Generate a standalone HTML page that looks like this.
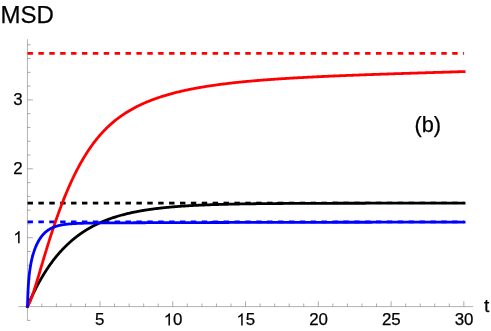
<!DOCTYPE html>
<html><head><meta charset="utf-8"><title>MSD plot</title>
<style>html,body{margin:0;padding:0;background:#fff;}body{width:491px;height:331px;overflow:hidden;font-family:"Liberation Sans",sans-serif;}</style>
</head><body>
<svg width="491" height="331" viewBox="0 0 491 331" style="display:block;will-change:transform"><g stroke="#666666" stroke-width="0.5" fill="none">
<line x1="18.4" y1="306.6" x2="473.2" y2="306.6"/>
<line x1="27.45" y1="39.2" x2="27.45" y2="320.6"/>
</g>
<g stroke="#666666" stroke-width="0.55" fill="none">
<line x1="41.80" y1="306.6" x2="41.80" y2="303.50"/>
<line x1="56.36" y1="306.6" x2="56.36" y2="303.50"/>
<line x1="70.91" y1="306.6" x2="70.91" y2="303.50"/>
<line x1="85.46" y1="306.6" x2="85.46" y2="303.50"/>
<line x1="100.02" y1="306.6" x2="100.02" y2="301.20"/>
<line x1="114.57" y1="306.6" x2="114.57" y2="303.50"/>
<line x1="129.12" y1="306.6" x2="129.12" y2="303.50"/>
<line x1="143.67" y1="306.6" x2="143.67" y2="303.50"/>
<line x1="158.23" y1="306.6" x2="158.23" y2="303.50"/>
<line x1="172.78" y1="306.6" x2="172.78" y2="301.20"/>
<line x1="187.33" y1="306.6" x2="187.33" y2="303.50"/>
<line x1="201.89" y1="306.6" x2="201.89" y2="303.50"/>
<line x1="216.44" y1="306.6" x2="216.44" y2="303.50"/>
<line x1="230.99" y1="306.6" x2="230.99" y2="303.50"/>
<line x1="245.55" y1="306.6" x2="245.55" y2="301.20"/>
<line x1="260.10" y1="306.6" x2="260.10" y2="303.50"/>
<line x1="274.65" y1="306.6" x2="274.65" y2="303.50"/>
<line x1="289.20" y1="306.6" x2="289.20" y2="303.50"/>
<line x1="303.76" y1="306.6" x2="303.76" y2="303.50"/>
<line x1="318.31" y1="306.6" x2="318.31" y2="301.20"/>
<line x1="332.86" y1="306.6" x2="332.86" y2="303.50"/>
<line x1="347.42" y1="306.6" x2="347.42" y2="303.50"/>
<line x1="361.97" y1="306.6" x2="361.97" y2="303.50"/>
<line x1="376.52" y1="306.6" x2="376.52" y2="303.50"/>
<line x1="391.08" y1="306.6" x2="391.08" y2="301.20"/>
<line x1="405.63" y1="306.6" x2="405.63" y2="303.50"/>
<line x1="420.18" y1="306.6" x2="420.18" y2="303.50"/>
<line x1="434.73" y1="306.6" x2="434.73" y2="303.50"/>
<line x1="449.29" y1="306.6" x2="449.29" y2="303.50"/>
<line x1="463.84" y1="306.6" x2="463.84" y2="301.20"/>
<line x1="27.45" y1="320.38" x2="30.55" y2="320.38"/>
<line x1="27.45" y1="292.82" x2="30.55" y2="292.82"/>
<line x1="27.45" y1="279.04" x2="30.55" y2="279.04"/>
<line x1="27.45" y1="265.26" x2="30.55" y2="265.26"/>
<line x1="27.45" y1="251.48" x2="30.55" y2="251.48"/>
<line x1="27.45" y1="237.70" x2="32.85" y2="237.70"/>
<line x1="27.45" y1="223.92" x2="30.55" y2="223.92"/>
<line x1="27.45" y1="210.14" x2="30.55" y2="210.14"/>
<line x1="27.45" y1="196.36" x2="30.55" y2="196.36"/>
<line x1="27.45" y1="182.58" x2="30.55" y2="182.58"/>
<line x1="27.45" y1="168.80" x2="32.85" y2="168.80"/>
<line x1="27.45" y1="155.02" x2="30.55" y2="155.02"/>
<line x1="27.45" y1="141.24" x2="30.55" y2="141.24"/>
<line x1="27.45" y1="127.46" x2="30.55" y2="127.46"/>
<line x1="27.45" y1="113.68" x2="30.55" y2="113.68"/>
<line x1="27.45" y1="99.90" x2="32.85" y2="99.90"/>
<line x1="27.45" y1="86.12" x2="30.55" y2="86.12"/>
<line x1="27.45" y1="72.34" x2="30.55" y2="72.34"/>
<line x1="27.45" y1="58.56" x2="30.55" y2="58.56"/>
<line x1="27.45" y1="44.78" x2="30.55" y2="44.78"/>
</g>
<g fill="none" stroke-width="2.8">
<rect x="27.50" y="201.70" width="5.45" height="2.8" fill="#000" stroke="none"/>
<rect x="38.39" y="201.70" width="5.45" height="2.8" fill="#000" stroke="none"/>
<rect x="49.28" y="201.70" width="5.45" height="2.8" fill="#000" stroke="none"/>
<rect x="60.17" y="201.70" width="5.45" height="2.8" fill="#000" stroke="none"/>
<rect x="71.06" y="201.70" width="5.44" height="2.8" fill="#000" stroke="none"/>
<rect x="81.95" y="201.70" width="5.45" height="2.8" fill="#000" stroke="none"/>
<rect x="92.84" y="201.70" width="5.44" height="2.8" fill="#000" stroke="none"/>
<rect x="103.73" y="201.70" width="5.45" height="2.8" fill="#000" stroke="none"/>
<rect x="114.62" y="201.70" width="5.44" height="2.8" fill="#000" stroke="none"/>
<rect x="125.51" y="201.70" width="5.45" height="2.8" fill="#000" stroke="none"/>
<rect x="136.40" y="201.70" width="5.44" height="2.8" fill="#000" stroke="none"/>
<rect x="147.29" y="201.70" width="5.44" height="2.8" fill="#000" stroke="none"/>
<rect x="158.18" y="201.70" width="5.44" height="2.8" fill="#000" stroke="none"/>
<rect x="169.07" y="201.70" width="5.44" height="2.8" fill="#000" stroke="none"/>
<rect x="179.96" y="201.70" width="5.44" height="2.8" fill="#000" stroke="none"/>
<rect x="190.85" y="201.70" width="5.44" height="2.8" fill="#000" stroke="none"/>
<rect x="201.74" y="201.70" width="5.44" height="2.8" fill="#000" stroke="none"/>
<rect x="212.63" y="201.70" width="5.44" height="2.35" fill="#000" stroke="none"/>
<rect x="223.52" y="201.70" width="5.44" height="2.35" fill="#000" stroke="none"/>
<rect x="234.41" y="201.70" width="5.44" height="2.35" fill="#000" stroke="none"/>
<rect x="245.30" y="201.70" width="5.44" height="2.35" fill="#000" stroke="none"/>
<rect x="256.19" y="201.70" width="5.44" height="2.35" fill="#000" stroke="none"/>
<rect x="267.08" y="201.70" width="5.44" height="2.35" fill="#000" stroke="none"/>
<rect x="277.97" y="201.70" width="5.44" height="2.35" fill="#000" stroke="none"/>
<rect x="288.86" y="201.70" width="5.44" height="2.35" fill="#000" stroke="none"/>
<rect x="299.75" y="201.70" width="5.44" height="2.35" fill="#000" stroke="none"/>
<rect x="310.64" y="201.70" width="5.44" height="2.35" fill="#000" stroke="none"/>
<rect x="321.53" y="201.70" width="5.44" height="2.35" fill="#000" stroke="none"/>
<rect x="332.42" y="201.70" width="5.44" height="2.35" fill="#000" stroke="none"/>
<rect x="343.31" y="201.70" width="5.44" height="2.35" fill="#000" stroke="none"/>
<rect x="354.20" y="201.70" width="5.44" height="2.35" fill="#000" stroke="none"/>
<rect x="365.09" y="201.70" width="5.44" height="2.35" fill="#000" stroke="none"/>
<rect x="375.98" y="201.70" width="5.44" height="2.35" fill="#000" stroke="none"/>
<rect x="386.87" y="201.70" width="5.44" height="2.35" fill="#000" stroke="none"/>
<rect x="397.76" y="201.70" width="5.44" height="2.35" fill="#000" stroke="none"/>
<rect x="408.65" y="201.70" width="5.44" height="2.35" fill="#000" stroke="none"/>
<rect x="419.54" y="201.70" width="5.44" height="2.35" fill="#000" stroke="none"/>
<rect x="430.43" y="201.70" width="5.44" height="2.35" fill="#000" stroke="none"/>
<rect x="441.32" y="201.70" width="5.44" height="2.35" fill="#000" stroke="none"/>
<rect x="452.21" y="201.70" width="5.44" height="2.35" fill="#000" stroke="none"/>
<rect x="463.10" y="201.70" width="0.99" height="2.35" fill="#000" stroke="none"/>
<line x1="27.5" y1="53.3" x2="464.09" y2="53.3" stroke="#f00" stroke-dasharray="5.445 5.445"/>
<line x1="27.5" y1="221.8" x2="464.09" y2="221.8" stroke="#00f" stroke-dasharray="5.445 5.445"/>
<path d="M27.50,306.30 L27.70,305.83 L27.90,305.36 L28.10,304.89 L28.30,304.42 L28.37,304.25 L28.50,303.96 L28.70,303.50 L28.90,303.04 L29.10,302.58 L29.25,302.25 L29.30,302.12 L29.51,301.67 L29.71,301.22 L29.91,300.77 L30.11,300.32 L30.12,300.28 L30.31,299.88 L30.51,299.44 L30.71,298.99 L30.91,298.56 L31.00,298.36 L31.11,298.12 L31.31,297.68 L31.51,297.25 L31.71,296.82 L31.87,296.47 L31.91,296.39 L32.11,295.96 L32.31,295.54 L32.51,295.12 L32.71,294.69 L32.75,294.62 L32.91,294.27 L33.11,293.86 L33.31,293.44 L33.52,293.03 L33.62,292.80 L33.72,292.62 L33.92,292.21 L34.12,291.80 L34.32,291.39 L34.50,291.02 L34.52,290.99 L34.72,290.59 L34.92,290.19 L35.12,289.79 L35.32,289.39 L35.37,289.28 L35.52,289.00 L35.72,288.60 L35.92,288.21 L36.12,287.82 L36.25,287.57 L36.32,287.43 L36.52,287.05 L36.72,286.66 L36.92,286.28 L37.12,285.90 L37.12,285.90 L37.32,285.52 L37.53,285.14 L37.73,284.77 L37.93,284.39 L38.00,284.26 L38.13,284.02 L38.33,283.65 L38.53,283.28 L38.73,282.92 L38.87,282.65 L38.93,282.55 L39.13,282.19 L39.33,281.82 L39.53,281.46 L39.73,281.11 L39.75,281.07 L39.93,280.75 L40.13,280.39 L40.33,280.04 L40.53,279.69 L40.62,279.53 L40.73,279.34 L40.93,278.99 L41.13,278.64 L41.33,278.29 L41.50,278.01 L41.54,277.95 L41.74,277.61 L41.94,277.27 L42.14,276.93 L42.34,276.59 L42.37,276.53 L42.54,276.25 L42.74,275.92 L42.94,275.59 L43.14,275.25 L43.25,275.07 L43.34,274.92 L43.54,274.59 L43.74,274.27 L43.94,273.94 L44.12,273.65 L44.14,273.62 L44.34,273.29 L44.54,272.97 L44.74,272.65 L44.94,272.34 L45.00,272.25 L45.14,272.02 L45.34,271.70 L45.55,271.39 L45.75,271.08 L45.87,270.88 L45.95,270.77 L46.15,270.46 L46.35,270.15 L46.55,269.84 L46.75,269.54 L46.75,269.53 L46.95,269.23 L47.15,268.93 L47.35,268.63 L47.55,268.33 L47.62,268.22 L47.75,268.03 L47.95,267.73 L48.15,267.44 L48.35,267.14 L48.50,266.93 L48.55,266.85 L48.75,266.56 L48.95,266.27 L49.15,265.98 L49.35,265.69 L49.37,265.66 L49.56,265.40 L49.76,265.12 L49.96,264.83 L50.16,264.55 L50.25,264.42 L50.36,264.27 L50.56,263.99 L50.76,263.71 L50.96,263.43 L51.12,263.21 L51.16,263.16 L51.36,262.88 L51.56,262.61 L51.76,262.34 L51.96,262.07 L52.00,262.02 L52.16,261.80 L52.36,261.53 L52.56,261.26 L52.76,260.99 L52.87,260.85 L52.96,260.73 L53.16,260.47 L53.36,260.20 L53.57,259.94 L53.75,259.71 L53.77,259.68 L53.97,259.42 L54.17,259.17 L54.37,258.91 L54.57,258.65 L54.62,258.58 L54.77,258.40 L54.97,258.15 L55.17,257.89 L55.37,257.64 L55.50,257.48 L55.57,257.39 L55.77,257.15 L55.97,256.90 L56.17,256.65 L56.37,256.41 L56.37,256.41 L56.57,256.16 L56.77,255.92 L56.97,255.68 L57.17,255.44 L57.25,255.35 L57.37,255.20 L57.58,254.96 L57.78,254.72 L57.98,254.49 L58.12,254.32 L58.18,254.25 L58.38,254.02 L58.58,253.79 L58.78,253.55 L58.98,253.32 L59.00,253.30 L59.18,253.09 L59.38,252.86 L59.58,252.64 L59.78,252.41 L59.87,252.31 L59.98,252.18 L60.18,251.96 L60.38,251.74 L60.58,251.51 L60.75,251.33 L60.78,251.29 L60.98,251.07 L61.18,250.85 L61.38,250.63 L61.59,250.42 L61.62,250.38 L61.79,250.20 L61.99,249.99 L62.19,249.77 L62.39,249.56 L62.50,249.44 L62.59,249.34 L62.79,249.13 L62.99,248.92 L63.19,248.71 L63.37,248.52 L63.39,248.50 L63.59,248.30 L63.79,248.09 L63.99,247.88 L64.19,247.68 L64.25,247.62 L64.39,247.48 L64.59,247.27 L64.79,247.07 L64.99,246.87 L65.12,246.74 L65.19,246.67 L65.39,246.47 L65.60,246.27 L65.80,246.07 L66.00,245.88 L66.00,245.88 L66.20,245.68 L66.40,245.49 L66.60,245.29 L66.80,245.10 L66.87,245.03 L67.00,244.91 L67.20,244.72 L67.40,244.53 L67.60,244.34 L67.75,244.20 L67.80,244.15 L68.00,243.96 L68.20,243.77 L68.40,243.59 L68.60,243.40 L68.62,243.39 L68.80,243.22 L69.00,243.04 L69.20,242.85 L69.40,242.67 L69.50,242.59 L69.61,242.49 L69.81,242.31 L70.01,242.13 L70.21,241.95 L70.37,241.81 L70.41,241.77 L70.61,241.60 L70.81,241.42 L71.01,241.25 L71.21,241.07 L71.25,241.04 L71.41,240.90 L71.61,240.73 L71.81,240.55 L72.01,240.38 L72.12,240.29 L72.21,240.21 L72.41,240.04 L72.61,239.87 L72.81,239.71 L73.00,239.55 L73.01,239.54 L73.21,239.37 L73.41,239.21 L73.62,239.04 L73.82,238.88 L73.87,238.83 L74.02,238.71 L74.22,238.55 L74.42,238.39 L74.62,238.23 L74.75,238.12 L74.82,238.07 L75.02,237.91 L75.22,237.75 L75.42,237.59 L75.62,237.43 L75.62,237.43 L75.82,237.27 L76.02,237.12 L76.22,236.96 L76.42,236.81 L76.50,236.75 L76.62,236.65 L76.82,236.50 L77.02,236.35 L77.22,236.20 L77.37,236.08 L77.42,236.04 L77.63,235.89 L77.83,235.74 L78.03,235.59 L78.23,235.45 L78.25,235.43 L78.43,235.30 L78.63,235.15 L78.83,235.00 L79.03,234.86 L79.12,234.79 L79.23,234.71 L79.43,234.57 L79.63,234.43 L79.83,234.28 L80.00,234.16 L80.03,234.14 L80.23,234.00 L80.43,233.86 L80.63,233.72 L80.83,233.58 L80.87,233.55 L81.03,233.44 L81.23,233.30 L81.43,233.16 L81.64,233.02 L81.75,232.95 L81.84,232.89 L82.04,232.75 L82.24,232.61 L82.44,232.48 L82.62,232.36 L82.64,232.35 L82.84,232.21 L83.04,232.08 L83.24,231.95 L83.44,231.81 L83.50,231.78 L83.64,231.68 L83.84,231.55 L84.04,231.42 L84.24,231.29 L84.37,231.21 L84.44,231.16 L84.64,231.04 L84.84,230.91 L85.04,230.78 L85.24,230.65 L85.25,230.65 L85.44,230.53 L85.65,230.40 L85.85,230.28 L86.05,230.15 L86.12,230.11 L86.25,230.03 L86.45,229.91 L86.65,229.79 L86.85,229.66 L87.00,229.57 L87.05,229.54 L87.25,229.42 L87.45,229.30 L87.65,229.18 L87.85,229.06 L87.87,229.05 L88.05,228.94 L88.25,228.83 L88.45,228.71 L88.65,228.59 L88.75,228.54 L88.85,228.48 L89.05,228.36 L89.25,228.24 L89.45,228.13 L89.62,228.03 L89.66,228.01 L89.86,227.90 L90.06,227.79 L90.26,227.67 L90.46,227.56 L90.49,227.54 L90.66,227.45 L90.86,227.34 L91.06,227.23 L91.26,227.12 L91.37,227.06 L91.46,227.01 L91.66,226.90 L91.86,226.79 L92.06,226.68 L92.24,226.58 L92.26,226.58 L92.46,226.47 L92.66,226.36 L92.86,226.26 L93.06,226.15 L93.12,226.12 L93.26,226.04 L93.46,225.94 L93.67,225.84 L93.87,225.73 L93.99,225.66 L94.07,225.63 L94.27,225.53 L94.47,225.42 L94.67,225.32 L94.87,225.22 L94.87,225.22 L95.07,225.12 L95.27,225.02 L95.47,224.92 L95.67,224.82 L95.74,224.78 L95.87,224.72 L96.07,224.62 L96.27,224.52 L96.47,224.42 L96.62,224.35 L96.67,224.33 L96.87,224.23 L97.07,224.13 L97.27,224.04 L97.47,223.94 L97.49,223.93 L97.68,223.85 L97.88,223.75 L98.08,223.66 L98.28,223.56 L98.37,223.52 L98.48,223.47 L98.68,223.38 L98.88,223.29 L99.08,223.19 L99.24,223.12 L99.28,223.10 L99.48,223.01 L99.68,222.92 L99.88,222.83 L100.08,222.74 L100.12,222.72 L100.28,222.65 L100.48,222.56 L100.68,222.47 L100.88,222.38 L100.99,222.33 L101.08,222.29 L101.28,222.21 L101.48,222.12 L101.69,222.03 L101.87,221.95 L101.89,221.95 L102.09,221.86 L102.29,221.78 L102.49,221.69 L102.69,221.61 L102.74,221.58 L102.89,221.52 L103.09,221.44 L103.29,221.35 L103.49,221.27 L103.62,221.22 L103.69,221.19 L103.89,221.10 L104.09,221.02 L104.29,220.94 L104.49,220.86 L104.49,220.86 L104.69,220.78 L104.89,220.70 L105.09,220.62 L105.29,220.54 L105.37,220.51 L105.49,220.46 L105.70,220.38 L105.90,220.30 L106.10,220.22 L106.24,220.16 L106.30,220.14 L106.50,220.07 L106.70,219.99 L106.90,219.91 L107.10,219.83 L107.12,219.83 L107.30,219.76 L107.50,219.68 L107.99,219.50 L108.87,219.17 L109.74,218.86 L110.62,218.54 L111.49,218.24 L112.37,217.94 L113.24,217.65 L114.12,217.36 L114.99,217.08 L115.87,216.80 L116.74,216.53 L117.62,216.27 L118.49,216.01 L119.37,215.75 L120.24,215.51 L121.12,215.26 L121.99,215.02 L122.87,214.79 L123.74,214.56 L124.62,214.33 L125.49,214.11 L126.37,213.89 L127.24,213.68 L128.12,213.47 L128.99,213.27 L129.87,213.07 L130.74,212.87 L131.62,212.68 L132.49,212.49 L133.37,212.31 L134.24,212.12 L135.12,211.95 L135.99,211.77 L136.87,211.60 L137.74,211.44 L138.62,211.27 L139.49,211.11 L140.37,210.95 L141.24,210.80 L142.12,210.65 L142.99,210.50 L143.87,210.35 L144.74,210.21 L145.62,210.07 L146.49,209.94 L147.37,209.80 L148.24,209.67 L149.12,209.54 L149.99,209.42 L150.87,209.29 L151.74,209.17 L152.61,209.05 L153.49,208.94 L154.36,208.82 L155.24,208.71 L156.11,208.60 L156.99,208.49 L157.86,208.39 L158.74,208.28 L159.61,208.18 L160.49,208.08 L161.36,207.99 L162.24,207.89 L163.11,207.80 L163.99,207.71 L164.86,207.62 L165.74,207.53 L166.61,207.44 L167.49,207.36 L168.36,207.27 L169.24,207.19 L170.11,207.11 L170.99,207.03 L171.86,206.96 L172.74,206.88 L173.61,206.81 L174.49,206.74 L175.36,206.67 L176.24,206.60 L177.11,206.53 L177.99,206.46 L178.86,206.40 L179.74,206.33 L180.61,206.27 L181.49,206.21 L182.36,206.15 L183.24,206.09 L184.11,206.03 L184.99,205.98 L185.86,205.92 L186.74,205.87 L187.61,205.81 L188.49,205.76 L189.36,205.71 L190.24,205.66 L191.11,205.61 L191.99,205.56 L192.86,205.52 L193.74,205.47 L194.61,205.42 L195.49,205.38 L196.36,205.34 L197.24,205.29 L198.11,205.25 L198.99,205.21 L199.86,205.17 L200.74,205.13 L201.61,205.09 L202.49,205.05 L203.36,205.02 L204.24,204.98 L205.11,204.94 L205.99,204.91 L206.86,204.87 L207.74,204.84 L208.61,204.81 L209.49,204.78 L210.36,204.74 L211.24,204.71 L212.11,204.68 L212.99,204.65 L213.86,204.62 L214.73,204.60 L215.61,204.57 L216.48,204.54 L217.36,204.51 L218.23,204.49 L219.11,204.46 L219.98,204.43 L220.86,204.41 L221.73,204.39 L222.61,204.36 L223.48,204.34 L224.36,204.32 L225.23,204.29 L226.11,204.27 L226.98,204.25 L227.86,204.23 L228.73,204.21 L229.61,204.19 L230.48,204.17 L231.36,204.15 L232.23,204.13 L233.11,204.11 L233.98,204.09 L234.86,204.07 L235.73,204.05 L236.61,204.04 L237.48,204.02 L238.36,204.00 L239.23,203.99 L240.11,203.97 L240.98,203.96 L241.86,203.94 L242.73,203.93 L243.61,203.91 L244.48,203.90 L245.36,203.88 L246.23,203.87 L247.11,203.85 L247.98,203.84 L248.86,203.83 L249.73,203.81 L250.61,203.80 L251.48,203.79 L252.36,203.78 L253.23,203.77 L254.11,203.75 L254.98,203.74 L255.86,203.73 L256.73,203.72 L257.61,203.71 L258.48,203.70 L259.36,203.69 L260.23,203.68 L261.11,203.67 L261.98,203.66 L262.86,203.65 L263.73,203.64 L264.61,203.63 L265.48,203.62 L266.36,203.61 L267.23,203.61 L268.11,203.60 L268.98,203.59 L269.86,203.58 L270.73,203.57 L271.61,203.56 L272.48,203.56 L273.36,203.55 L274.23,203.54 L275.11,203.54 L275.98,203.53 L276.86,203.52 L277.73,203.51 L278.60,203.51 L279.48,203.50 L280.35,203.49 L281.23,203.49 L282.10,203.48 L282.98,203.48 L283.85,203.47 L284.73,203.46 L285.60,203.46 L286.48,203.45 L287.35,203.45 L288.23,203.44 L289.10,203.44 L289.98,203.43 L290.85,203.43 L291.73,203.42 L292.60,203.42 L293.48,203.41 L294.35,203.41 L295.23,203.40 L296.10,203.40 L296.98,203.40 L297.85,203.39 L298.73,203.39 L299.60,203.38 L300.48,203.38 L301.35,203.37 L302.23,203.37 L303.10,203.37 L303.98,203.36 L304.85,203.36 L305.73,203.36 L306.60,203.35 L307.48,203.35 L308.35,203.35 L309.23,203.34 L310.10,203.34 L310.98,203.34 L311.85,203.33 L312.73,203.33 L313.60,203.33 L314.48,203.32 L315.35,203.32 L316.23,203.32 L317.10,203.32 L317.98,203.31 L318.85,203.31 L319.73,203.31 L320.60,203.31 L321.48,203.30 L322.35,203.30 L323.23,203.30 L324.10,203.30 L324.98,203.29 L325.85,203.29 L326.73,203.29 L327.60,203.29 L328.48,203.28 L329.35,203.28 L330.23,203.28 L331.10,203.28 L331.98,203.28 L332.85,203.27 L333.73,203.27 L334.60,203.27 L335.48,203.27 L336.35,203.27 L337.23,203.27 L338.10,203.26 L338.98,203.26 L339.85,203.26 L340.72,203.26 L341.60,203.26 L342.47,203.26 L343.35,203.25 L344.22,203.25 L345.10,203.25 L345.97,203.25 L346.85,203.25 L347.72,203.25 L348.60,203.25 L349.47,203.24 L350.35,203.24 L351.22,203.24 L352.10,203.24 L352.97,203.24 L353.85,203.24 L354.72,203.24 L355.60,203.24 L356.47,203.24 L357.35,203.23 L358.22,203.23 L359.10,203.23 L359.97,203.23 L360.85,203.23 L361.72,203.23 L362.60,203.23 L363.47,203.23 L364.35,203.23 L365.22,203.23 L366.10,203.22 L366.97,203.22 L367.85,203.22 L368.72,203.22 L369.60,203.22 L370.47,203.22 L371.35,203.22 L372.22,203.22 L373.10,203.22 L373.97,203.22 L374.85,203.22 L375.72,203.22 L376.60,203.21 L377.47,203.21 L378.35,203.21 L379.22,203.21 L380.10,203.21 L380.97,203.21 L381.85,203.21 L382.72,203.21 L383.60,203.21 L384.47,203.21 L385.35,203.21 L386.22,203.21 L387.10,203.21 L387.97,203.21 L388.85,203.21 L389.72,203.21 L390.60,203.21 L391.47,203.20 L392.35,203.20 L393.22,203.20 L394.10,203.20 L394.97,203.20 L395.85,203.20 L396.72,203.20 L397.60,203.20 L398.47,203.20 L399.35,203.20 L400.22,203.20 L401.10,203.20 L401.97,203.20 L402.84,203.20 L403.72,203.20 L404.59,203.20 L405.47,203.20 L406.34,203.20 L407.22,203.20 L408.09,203.20 L408.97,203.20 L409.84,203.20 L410.72,203.20 L411.59,203.20 L412.47,203.20 L413.34,203.19 L414.22,203.19 L415.09,203.19 L415.97,203.19 L416.84,203.19 L417.72,203.19 L418.59,203.19 L419.47,203.19 L420.34,203.19 L421.22,203.19 L422.09,203.19 L422.97,203.19 L423.84,203.19 L424.72,203.19 L425.59,203.19 L426.47,203.19 L427.34,203.19 L428.22,203.19 L429.09,203.19 L429.97,203.19 L430.84,203.19 L431.72,203.19 L432.59,203.19 L433.47,203.19 L434.34,203.19 L435.22,203.19 L436.09,203.19 L436.97,203.19 L437.84,203.19 L438.72,203.19 L439.59,203.19 L440.47,203.19 L441.34,203.19 L442.22,203.19 L443.09,203.19 L443.97,203.19 L444.84,203.19 L445.72,203.19 L446.59,203.19 L447.47,203.19 L448.34,203.19 L449.22,203.19 L450.09,203.19 L450.97,203.19 L451.84,203.19 L452.72,203.19 L453.59,203.19 L454.47,203.19 L455.34,203.19 L456.22,203.19 L457.09,203.19 L457.97,203.19 L458.84,203.19 L459.72,203.19 L460.59,203.19 L461.47,203.18 L462.34,203.18 L463.22,203.18 L464.09,203.18" stroke="#000" stroke-linecap="square" stroke-linejoin="round"/>
<path d="M27.50,306.30 L27.70,306.01 L27.90,305.71 L28.10,305.39 L28.30,305.05 L28.37,304.92 L28.50,304.69 L28.70,304.32 L28.90,303.93 L29.10,303.53 L29.25,303.23 L29.30,303.11 L29.51,302.68 L29.71,302.24 L29.91,301.79 L30.11,301.33 L30.12,301.28 L30.31,300.85 L30.51,300.37 L30.71,299.87 L30.91,299.37 L31.00,299.13 L31.11,298.85 L31.31,298.33 L31.51,297.80 L31.71,297.26 L31.87,296.81 L31.91,296.72 L32.11,296.16 L32.31,295.60 L32.51,295.03 L32.71,294.46 L32.75,294.35 L32.91,293.88 L33.11,293.29 L33.31,292.70 L33.52,292.10 L33.62,291.78 L33.72,291.50 L33.92,290.90 L34.12,290.28 L34.32,289.67 L34.50,289.10 L34.52,289.05 L34.72,288.42 L34.92,287.79 L35.12,287.16 L35.32,286.52 L35.37,286.35 L35.52,285.88 L35.72,285.24 L35.92,284.59 L36.12,283.94 L36.25,283.53 L36.32,283.29 L36.52,282.63 L36.72,281.97 L36.92,281.31 L37.12,280.65 L37.12,280.65 L37.32,279.99 L37.53,279.32 L37.73,278.65 L37.93,277.98 L38.00,277.74 L38.13,277.31 L38.33,276.64 L38.53,275.97 L38.73,275.29 L38.87,274.80 L38.93,274.62 L39.13,273.94 L39.33,273.27 L39.53,272.59 L39.73,271.91 L39.75,271.85 L39.93,271.24 L40.13,270.56 L40.33,269.88 L40.53,269.20 L40.62,268.89 L40.73,268.53 L40.93,267.85 L41.13,267.17 L41.33,266.49 L41.50,265.94 L41.54,265.82 L41.74,265.14 L41.94,264.46 L42.14,263.79 L42.34,263.11 L42.37,262.99 L42.54,262.44 L42.74,261.77 L42.94,261.09 L43.14,260.42 L43.25,260.06 L43.34,259.75 L43.54,259.08 L43.74,258.41 L43.94,257.74 L44.12,257.14 L44.14,257.08 L44.34,256.41 L44.54,255.75 L44.74,255.08 L44.94,254.42 L45.00,254.24 L45.14,253.76 L45.34,253.10 L45.55,252.44 L45.75,251.78 L45.87,251.36 L45.95,251.12 L46.15,250.47 L46.35,249.81 L46.55,249.16 L46.75,248.51 L46.75,248.51 L46.95,247.86 L47.15,247.21 L47.35,246.57 L47.55,245.92 L47.62,245.68 L47.75,245.28 L47.95,244.63 L48.15,243.99 L48.35,243.35 L48.50,242.89 L48.55,242.71 L48.75,242.08 L48.95,241.44 L49.15,240.81 L49.35,240.18 L49.37,240.12 L49.56,239.55 L49.76,238.92 L49.96,238.29 L50.16,237.66 L50.25,237.38 L50.36,237.04 L50.56,236.42 L50.76,235.80 L50.96,235.18 L51.12,234.67 L51.16,234.56 L51.36,233.94 L51.56,233.33 L51.76,232.72 L51.96,232.11 L52.00,231.99 L52.16,231.50 L52.36,230.89 L52.56,230.28 L52.76,229.68 L52.87,229.35 L52.96,229.08 L53.16,228.47 L53.36,227.87 L53.57,227.28 L53.75,226.73 L53.77,226.68 L53.97,226.09 L54.17,225.49 L54.37,224.90 L54.57,224.31 L54.62,224.15 L54.77,223.72 L54.97,223.14 L55.17,222.55 L55.37,221.97 L55.50,221.60 L55.57,221.39 L55.77,220.81 L55.97,220.23 L56.17,219.66 L56.37,219.08 L56.37,219.08 L56.57,218.51 L56.77,217.94 L56.97,217.37 L57.17,216.80 L57.25,216.60 L57.37,216.24 L57.58,215.68 L57.78,215.11 L57.98,214.55 L58.12,214.15 L58.18,214.00 L58.38,213.44 L58.58,212.89 L58.78,212.33 L58.98,211.78 L59.00,211.73 L59.18,211.23 L59.38,210.69 L59.58,210.14 L59.78,209.60 L59.87,209.35 L59.98,209.06 L60.18,208.52 L60.38,207.98 L60.58,207.44 L60.75,207.01 L60.78,206.91 L60.98,206.38 L61.18,205.85 L61.38,205.32 L61.59,204.79 L61.62,204.70 L61.79,204.27 L61.99,203.75 L62.19,203.23 L62.39,202.71 L62.50,202.42 L62.59,202.19 L62.79,201.68 L62.99,201.16 L63.19,200.65 L63.37,200.19 L63.39,200.14 L63.59,199.64 L63.79,199.13 L63.99,198.63 L64.19,198.13 L64.25,197.99 L64.39,197.63 L64.59,197.13 L64.79,196.63 L64.99,196.14 L65.12,195.82 L65.19,195.65 L65.39,195.16 L65.60,194.67 L65.80,194.18 L66.00,193.70 L66.00,193.70 L66.20,193.22 L66.40,192.73 L66.60,192.26 L66.80,191.78 L66.87,191.60 L67.00,191.30 L67.20,190.83 L67.40,190.36 L67.60,189.89 L67.75,189.55 L67.80,189.42 L68.00,188.96 L68.20,188.49 L68.40,188.03 L68.60,187.57 L68.62,187.53 L68.80,187.11 L69.00,186.65 L69.20,186.20 L69.40,185.75 L69.50,185.54 L69.61,185.30 L69.81,184.85 L70.01,184.40 L70.21,183.95 L70.37,183.59 L70.41,183.51 L70.61,183.07 L70.81,182.63 L71.01,182.19 L71.21,181.75 L71.25,181.67 L71.41,181.32 L71.61,180.88 L71.81,180.45 L72.01,180.02 L72.12,179.79 L72.21,179.59 L72.41,179.17 L72.61,178.74 L72.81,178.32 L73.00,177.94 L73.01,177.90 L73.21,177.48 L73.41,177.06 L73.62,176.65 L73.82,176.23 L73.87,176.12 L74.02,175.82 L74.22,175.41 L74.42,175.00 L74.62,174.60 L74.75,174.34 L74.82,174.19 L75.02,173.79 L75.22,173.39 L75.42,172.99 L75.62,172.59 L75.62,172.59 L75.82,172.19 L76.02,171.79 L76.22,171.40 L76.42,171.01 L76.50,170.87 L76.62,170.62 L76.82,170.23 L77.02,169.84 L77.22,169.46 L77.37,169.18 L77.42,169.07 L77.63,168.69 L77.83,168.31 L78.03,167.93 L78.23,167.56 L78.25,167.52 L78.43,167.18 L78.63,166.81 L78.83,166.43 L79.03,166.06 L79.12,165.89 L79.23,165.69 L79.43,165.33 L79.63,164.96 L79.83,164.60 L80.00,164.30 L80.03,164.23 L80.23,163.87 L80.43,163.51 L80.63,163.15 L80.83,162.80 L80.87,162.73 L81.03,162.44 L81.23,162.09 L81.43,161.74 L81.64,161.39 L81.75,161.19 L81.84,161.04 L82.04,160.69 L82.24,160.34 L82.44,160.00 L82.62,159.69 L82.64,159.66 L82.84,159.32 L83.04,158.98 L83.24,158.64 L83.44,158.30 L83.50,158.21 L83.64,157.97 L83.84,157.63 L84.04,157.30 L84.24,156.97 L84.37,156.76 L84.44,156.64 L84.64,156.31 L84.84,155.98 L85.04,155.66 L85.24,155.33 L85.25,155.33 L85.44,155.01 L85.65,154.69 L85.85,154.37 L86.05,154.05 L86.12,153.94 L86.25,153.74 L86.45,153.42 L86.65,153.11 L86.85,152.79 L87.00,152.57 L87.05,152.48 L87.25,152.17 L87.45,151.86 L87.65,151.56 L87.85,151.25 L87.87,151.22 L88.05,150.95 L88.25,150.64 L88.45,150.34 L88.65,150.04 L88.75,149.90 L88.85,149.74 L89.05,149.45 L89.25,149.15 L89.45,148.85 L89.62,148.61 L89.66,148.56 L89.86,148.27 L90.06,147.98 L90.26,147.69 L90.46,147.40 L90.49,147.35 L90.66,147.11 L90.86,146.83 L91.06,146.54 L91.26,146.26 L91.37,146.10 L91.46,145.98 L91.66,145.70 L91.86,145.42 L92.06,145.14 L92.24,144.89 L92.26,144.86 L92.46,144.59 L92.66,144.31 L92.86,144.04 L93.06,143.77 L93.12,143.69 L93.26,143.50 L93.46,143.23 L93.67,142.96 L93.87,142.70 L93.99,142.52 L94.07,142.43 L94.27,142.17 L94.47,141.90 L94.67,141.64 L94.87,141.38 L94.87,141.38 L95.07,141.12 L95.27,140.86 L95.47,140.60 L95.67,140.35 L95.74,140.25 L95.87,140.09 L96.07,139.84 L96.27,139.59 L96.47,139.34 L96.62,139.15 L96.67,139.09 L96.87,138.84 L97.07,138.59 L97.27,138.34 L97.47,138.10 L97.49,138.08 L97.68,137.86 L97.88,137.61 L98.08,137.37 L98.28,137.13 L98.37,137.02 L98.48,136.89 L98.68,136.65 L98.88,136.41 L99.08,136.18 L99.24,135.98 L99.28,135.94 L99.48,135.71 L99.68,135.48 L99.88,135.24 L100.08,135.01 L100.12,134.97 L100.28,134.78 L100.48,134.56 L100.68,134.33 L100.88,134.10 L100.99,133.98 L101.08,133.88 L101.28,133.65 L101.48,133.43 L101.69,133.21 L101.87,133.00 L101.89,132.99 L102.09,132.77 L102.29,132.55 L102.49,132.33 L102.69,132.11 L102.74,132.05 L102.89,131.90 L103.09,131.68 L103.29,131.47 L103.49,131.26 L103.62,131.12 L103.69,131.05 L103.89,130.83 L104.09,130.63 L104.29,130.42 L104.49,130.21 L104.49,130.21 L104.69,130.00 L104.89,129.80 L105.09,129.59 L105.29,129.39 L105.37,129.31 L105.49,129.19 L105.70,128.99 L105.90,128.79 L106.10,128.59 L106.24,128.44 L106.30,128.39 L106.50,128.19 L106.70,127.99 L106.90,127.80 L107.10,127.60 L107.12,127.58 L107.30,127.41 L107.50,127.22 L107.99,126.75 L108.87,125.93 L109.74,125.12 L110.62,124.34 L111.49,123.56 L112.37,122.81 L113.24,122.07 L114.12,121.34 L114.99,120.63 L115.87,119.93 L116.74,119.25 L117.62,118.58 L118.49,117.92 L119.37,117.28 L120.24,116.64 L121.12,116.02 L121.99,115.41 L122.87,114.82 L123.74,114.23 L124.62,113.66 L125.49,113.09 L126.37,112.54 L127.24,111.99 L128.12,111.46 L128.99,110.93 L129.87,110.42 L130.74,109.91 L131.62,109.42 L132.49,108.93 L133.37,108.45 L134.24,107.98 L135.12,107.51 L135.99,107.06 L136.87,106.61 L137.74,106.17 L138.62,105.74 L139.49,105.31 L140.37,104.90 L141.24,104.49 L142.12,104.08 L142.99,103.69 L143.87,103.30 L144.74,102.91 L145.62,102.53 L146.49,102.16 L147.37,101.80 L148.24,101.44 L149.12,101.08 L149.99,100.74 L150.87,100.39 L151.74,100.06 L152.61,99.72 L153.49,99.40 L154.36,99.08 L155.24,98.76 L156.11,98.45 L156.99,98.14 L157.86,97.84 L158.74,97.54 L159.61,97.25 L160.49,96.96 L161.36,96.68 L162.24,96.40 L163.11,96.12 L163.99,95.85 L164.86,95.58 L165.74,95.32 L166.61,95.06 L167.49,94.81 L168.36,94.55 L169.24,94.31 L170.11,94.06 L170.99,93.82 L171.86,93.58 L172.74,93.35 L173.61,93.12 L174.49,92.89 L175.36,92.67 L176.24,92.45 L177.11,92.23 L177.99,92.01 L178.86,91.80 L179.74,91.59 L180.61,91.39 L181.49,91.18 L182.36,90.98 L183.24,90.79 L184.11,90.59 L184.99,90.40 L185.86,90.21 L186.74,90.02 L187.61,89.84 L188.49,89.66 L189.36,89.48 L190.24,89.30 L191.11,89.12 L191.99,88.95 L192.86,88.78 L193.74,88.61 L194.61,88.45 L195.49,88.28 L196.36,88.12 L197.24,87.96 L198.11,87.80 L198.99,87.65 L199.86,87.50 L200.74,87.34 L201.61,87.19 L202.49,87.05 L203.36,86.90 L204.24,86.76 L205.11,86.61 L205.99,86.47 L206.86,86.34 L207.74,86.20 L208.61,86.06 L209.49,85.93 L210.36,85.80 L211.24,85.67 L212.11,85.54 L212.99,85.41 L213.86,85.28 L214.73,85.16 L215.61,85.04 L216.48,84.92 L217.36,84.80 L218.23,84.68 L219.11,84.56 L219.98,84.44 L220.86,84.33 L221.73,84.22 L222.61,84.10 L223.48,83.99 L224.36,83.88 L225.23,83.78 L226.11,83.67 L226.98,83.56 L227.86,83.46 L228.73,83.36 L229.61,83.25 L230.48,83.15 L231.36,83.05 L232.23,82.96 L233.11,82.86 L233.98,82.76 L234.86,82.67 L235.73,82.57 L236.61,82.48 L237.48,82.39 L238.36,82.29 L239.23,82.20 L240.11,82.11 L240.98,82.03 L241.86,81.94 L242.73,81.85 L243.61,81.76 L244.48,81.68 L245.36,81.60 L246.23,81.51 L247.11,81.43 L247.98,81.35 L248.86,81.27 L249.73,81.19 L250.61,81.11 L251.48,81.03 L252.36,80.95 L253.23,80.88 L254.11,80.80 L254.98,80.73 L255.86,80.65 L256.73,80.58 L257.61,80.50 L258.48,80.43 L259.36,80.36 L260.23,80.29 L261.11,80.22 L261.98,80.15 L262.86,80.08 L263.73,80.01 L264.61,79.94 L265.48,79.88 L266.36,79.81 L267.23,79.75 L268.11,79.68 L268.98,79.62 L269.86,79.55 L270.73,79.49 L271.61,79.43 L272.48,79.36 L273.36,79.30 L274.23,79.24 L275.11,79.18 L275.98,79.12 L276.86,79.06 L277.73,79.00 L278.60,78.94 L279.48,78.88 L280.35,78.83 L281.23,78.77 L282.10,78.71 L282.98,78.66 L283.85,78.60 L284.73,78.55 L285.60,78.49 L286.48,78.44 L287.35,78.38 L288.23,78.33 L289.10,78.28 L289.98,78.22 L290.85,78.17 L291.73,78.12 L292.60,78.07 L293.48,78.02 L294.35,77.97 L295.23,77.92 L296.10,77.87 L296.98,77.82 L297.85,77.77 L298.73,77.72 L299.60,77.67 L300.48,77.62 L301.35,77.57 L302.23,77.53 L303.10,77.48 L303.98,77.43 L304.85,77.39 L305.73,77.34 L306.60,77.29 L307.48,77.25 L308.35,77.20 L309.23,77.16 L310.10,77.12 L310.98,77.07 L311.85,77.03 L312.73,76.98 L313.60,76.94 L314.48,76.90 L315.35,76.85 L316.23,76.81 L317.10,76.77 L317.98,76.73 L318.85,76.69 L319.73,76.64 L320.60,76.60 L321.48,76.56 L322.35,76.52 L323.23,76.48 L324.10,76.44 L324.98,76.40 L325.85,76.36 L326.73,76.32 L327.60,76.28 L328.48,76.24 L329.35,76.21 L330.23,76.17 L331.10,76.13 L331.98,76.09 L332.85,76.05 L333.73,76.02 L334.60,75.98 L335.48,75.94 L336.35,75.90 L337.23,75.87 L338.10,75.83 L338.98,75.79 L339.85,75.76 L340.72,75.72 L341.60,75.68 L342.47,75.65 L343.35,75.61 L344.22,75.58 L345.10,75.54 L345.97,75.51 L346.85,75.47 L347.72,75.44 L348.60,75.40 L349.47,75.37 L350.35,75.33 L351.22,75.30 L352.10,75.27 L352.97,75.23 L353.85,75.20 L354.72,75.16 L355.60,75.13 L356.47,75.10 L357.35,75.07 L358.22,75.03 L359.10,75.00 L359.97,74.97 L360.85,74.93 L361.72,74.90 L362.60,74.87 L363.47,74.84 L364.35,74.80 L365.22,74.77 L366.10,74.74 L366.97,74.71 L367.85,74.68 L368.72,74.65 L369.60,74.61 L370.47,74.58 L371.35,74.55 L372.22,74.52 L373.10,74.49 L373.97,74.46 L374.85,74.43 L375.72,74.40 L376.60,74.37 L377.47,74.34 L378.35,74.31 L379.22,74.28 L380.10,74.25 L380.97,74.22 L381.85,74.18 L382.72,74.16 L383.60,74.13 L384.47,74.10 L385.35,74.07 L386.22,74.04 L387.10,74.01 L387.97,73.98 L388.85,73.95 L389.72,73.92 L390.60,73.89 L391.47,73.86 L392.35,73.83 L393.22,73.80 L394.10,73.77 L394.97,73.74 L395.85,73.71 L396.72,73.69 L397.60,73.66 L398.47,73.63 L399.35,73.60 L400.22,73.57 L401.10,73.54 L401.97,73.51 L402.84,73.49 L403.72,73.46 L404.59,73.43 L405.47,73.40 L406.34,73.37 L407.22,73.35 L408.09,73.32 L408.97,73.29 L409.84,73.26 L410.72,73.23 L411.59,73.21 L412.47,73.18 L413.34,73.15 L414.22,73.12 L415.09,73.09 L415.97,73.07 L416.84,73.04 L417.72,73.01 L418.59,72.98 L419.47,72.96 L420.34,72.93 L421.22,72.90 L422.09,72.87 L422.97,72.85 L423.84,72.82 L424.72,72.79 L425.59,72.77 L426.47,72.74 L427.34,72.71 L428.22,72.68 L429.09,72.66 L429.97,72.63 L430.84,72.60 L431.72,72.58 L432.59,72.55 L433.47,72.52 L434.34,72.49 L435.22,72.47 L436.09,72.44 L436.97,72.41 L437.84,72.39 L438.72,72.36 L439.59,72.33 L440.47,72.31 L441.34,72.28 L442.22,72.25 L443.09,72.23 L443.97,72.20 L444.84,72.17 L445.72,72.15 L446.59,72.12 L447.47,72.09 L448.34,72.07 L449.22,72.04 L450.09,72.01 L450.97,71.99 L451.84,71.96 L452.72,71.93 L453.59,71.91 L454.47,71.88 L455.34,71.85 L456.22,71.83 L457.09,71.80 L457.97,71.77 L458.84,71.75 L459.72,71.72 L460.59,71.69 L461.47,71.67 L462.34,71.64 L463.22,71.61 L464.09,71.59" stroke="#f00" stroke-linecap="square" stroke-linejoin="round"/>
<path d="M27.50,306.30 L27.70,299.33 L27.90,293.98 L28.10,289.71 L28.30,286.21 L28.37,285.07 L28.50,283.24 L28.70,280.66 L28.90,278.39 L29.10,276.34 L29.25,274.97 L29.30,274.48 L29.51,272.77 L29.71,271.18 L29.91,269.71 L30.11,268.33 L30.12,268.21 L30.31,267.04 L30.51,265.81 L30.71,264.66 L30.91,263.57 L31.00,263.09 L31.11,262.53 L31.31,261.53 L31.51,260.59 L31.71,259.68 L31.87,258.97 L31.91,258.81 L32.11,257.98 L32.31,257.18 L32.51,256.41 L32.71,255.66 L32.75,255.53 L32.91,254.94 L33.11,254.25 L33.31,253.57 L33.52,252.92 L33.62,252.57 L33.72,252.29 L33.92,251.67 L34.12,251.08 L34.32,250.50 L34.50,249.98 L34.52,249.93 L34.72,249.38 L34.92,248.84 L35.12,248.32 L35.32,247.81 L35.37,247.67 L35.52,247.31 L35.72,246.82 L35.92,246.35 L36.12,245.88 L36.25,245.59 L36.32,245.43 L36.52,244.99 L36.72,244.55 L36.92,244.13 L37.12,243.71 L37.12,243.71 L37.32,243.31 L37.53,242.91 L37.73,242.52 L37.93,242.14 L38.00,242.00 L38.13,241.76 L38.33,241.40 L38.53,241.04 L38.73,240.69 L38.87,240.44 L38.93,240.35 L39.13,240.01 L39.33,239.68 L39.53,239.36 L39.73,239.04 L39.75,239.01 L39.93,238.73 L40.13,238.42 L40.33,238.13 L40.53,237.83 L40.62,237.70 L40.73,237.55 L40.93,237.27 L41.13,236.99 L41.33,236.72 L41.50,236.51 L41.54,236.46 L41.74,236.20 L41.94,235.94 L42.14,235.70 L42.34,235.45 L42.37,235.41 L42.54,235.21 L42.74,234.98 L42.94,234.75 L43.14,234.52 L43.25,234.40 L43.34,234.30 L43.54,234.08 L43.74,233.87 L43.94,233.66 L44.12,233.48 L44.14,233.46 L44.34,233.26 L44.54,233.06 L44.74,232.87 L44.94,232.68 L45.00,232.63 L45.14,232.49 L45.34,232.31 L45.55,232.13 L45.75,231.96 L45.87,231.85 L45.95,231.79 L46.15,231.62 L46.35,231.46 L46.55,231.29 L46.75,231.14 L46.75,231.14 L46.95,230.98 L47.15,230.83 L47.35,230.68 L47.55,230.53 L47.62,230.48 L47.75,230.39 L47.95,230.25 L48.15,230.11 L48.35,229.97 L48.50,229.88 L48.55,229.84 L48.75,229.71 L48.95,229.58 L49.15,229.46 L49.35,229.33 L49.37,229.32 L49.56,229.21 L49.76,229.10 L49.96,228.98 L50.16,228.87 L50.25,228.82 L50.36,228.75 L50.56,228.65 L50.76,228.54 L50.96,228.43 L51.12,228.35 L51.16,228.33 L51.36,228.23 L51.56,228.13 L51.76,228.03 L51.96,227.94 L52.00,227.92 L52.16,227.84 L52.36,227.75 L52.56,227.66 L52.76,227.57 L52.87,227.53 L52.96,227.49 L53.16,227.40 L53.36,227.32 L53.57,227.24 L53.75,227.16 L53.77,227.16 L53.97,227.08 L54.17,227.00 L54.37,226.93 L54.57,226.85 L54.62,226.83 L54.77,226.78 L54.97,226.71 L55.17,226.64 L55.37,226.57 L55.50,226.53 L55.57,226.50 L55.77,226.44 L55.97,226.37 L56.17,226.31 L56.37,226.24 L56.37,226.24 L56.57,226.18 L56.77,226.12 L56.97,226.06 L57.17,226.01 L57.25,225.99 L57.37,225.95 L57.58,225.90 L57.78,225.84 L57.98,225.79 L58.12,225.75 L58.18,225.73 L58.38,225.68 L58.58,225.63 L58.78,225.58 L58.98,225.53 L59.00,225.53 L59.18,225.49 L59.38,225.44 L59.58,225.39 L59.78,225.35 L59.87,225.33 L59.98,225.31 L60.18,225.26 L60.38,225.22 L60.58,225.18 L60.75,225.14 L60.78,225.14 L60.98,225.10 L61.18,225.06 L61.38,225.02 L61.59,224.98 L61.62,224.97 L61.79,224.94 L61.99,224.91 L62.19,224.87 L62.39,224.84 L62.50,224.82 L62.59,224.80 L62.79,224.77 L62.99,224.74 L63.19,224.70 L63.37,224.67 L63.39,224.67 L63.59,224.64 L63.79,224.61 L63.99,224.58 L64.19,224.55 L64.25,224.54 L64.39,224.52 L64.59,224.49 L64.79,224.46 L64.99,224.44 L65.12,224.42 L65.19,224.41 L65.39,224.38 L65.60,224.36 L65.80,224.33 L66.00,224.31 L66.00,224.31 L66.20,224.28 L66.40,224.26 L66.60,224.23 L66.80,224.21 L66.87,224.20 L67.00,224.19 L67.20,224.17 L67.40,224.14 L67.60,224.12 L67.75,224.11 L67.80,224.10 L68.00,224.08 L68.20,224.06 L68.40,224.04 L68.60,224.02 L68.62,224.02 L68.80,224.00 L69.00,223.98 L69.20,223.96 L69.40,223.94 L69.50,223.94 L69.61,223.93 L69.81,223.91 L70.01,223.89 L70.21,223.88 L70.37,223.86 L70.41,223.86 L70.61,223.84 L70.81,223.83 L71.01,223.81 L71.21,223.79 L71.25,223.79 L71.41,223.78 L71.61,223.76 L71.81,223.75 L72.01,223.74 L72.12,223.73 L72.21,223.72 L72.41,223.71 L72.61,223.69 L72.81,223.68 L73.00,223.67 L73.01,223.67 L73.21,223.65 L73.41,223.64 L73.62,223.63 L73.82,223.62 L73.87,223.61 L74.02,223.60 L74.22,223.59 L74.42,223.58 L74.62,223.57 L74.75,223.56 L74.82,223.56 L75.02,223.55 L75.22,223.54 L75.42,223.53 L75.62,223.52 L75.62,223.52 L75.82,223.51 L76.02,223.50 L76.22,223.49 L76.42,223.48 L76.50,223.47 L76.62,223.47 L76.82,223.46 L77.02,223.45 L77.22,223.44 L77.37,223.43 L77.42,223.43 L77.63,223.42 L77.83,223.41 L78.03,223.40 L78.23,223.40 L78.25,223.39 L78.43,223.39 L78.63,223.38 L78.83,223.37 L79.03,223.36 L79.12,223.36 L79.23,223.36 L79.43,223.35 L79.63,223.34 L79.83,223.33 L80.00,223.33 L80.03,223.33 L80.23,223.32 L80.43,223.31 L80.63,223.31 L80.83,223.30 L80.87,223.30 L81.03,223.29 L81.23,223.29 L81.43,223.28 L81.64,223.27 L81.75,223.27 L81.84,223.27 L82.04,223.26 L82.24,223.26 L82.44,223.25 L82.62,223.24 L82.64,223.24 L82.84,223.24 L83.04,223.23 L83.24,223.23 L83.44,223.22 L83.50,223.22 L83.64,223.22 L83.84,223.21 L84.04,223.21 L84.24,223.20 L84.37,223.20 L84.44,223.20 L84.64,223.19 L84.84,223.19 L85.04,223.18 L85.24,223.18 L85.25,223.18 L85.44,223.17 L85.65,223.17 L85.85,223.16 L86.05,223.16 L86.12,223.16 L86.25,223.15 L86.45,223.15 L86.65,223.15 L86.85,223.14 L87.00,223.14 L87.05,223.14 L87.25,223.13 L87.45,223.13 L87.65,223.12 L87.85,223.12 L87.87,223.12 L88.05,223.12 L88.25,223.11 L88.45,223.11 L88.65,223.11 L88.75,223.10 L88.85,223.10 L89.05,223.10 L89.25,223.10 L89.45,223.09 L89.62,223.09 L89.66,223.09 L89.86,223.09 L90.06,223.08 L90.26,223.08 L90.46,223.08 L90.49,223.07 L90.66,223.07 L90.86,223.07 L91.06,223.07 L91.26,223.06 L91.37,223.06 L91.46,223.06 L91.66,223.06 L91.86,223.05 L92.06,223.05 L92.24,223.05 L92.26,223.05 L92.46,223.05 L92.66,223.04 L92.86,223.04 L93.06,223.04 L93.12,223.04 L93.26,223.03 L93.46,223.03 L93.67,223.03 L93.87,223.03 L93.99,223.03 L94.07,223.02 L94.27,223.02 L94.47,223.02 L94.67,223.02 L94.87,223.01 L94.87,223.01 L95.07,223.01 L95.27,223.01 L95.47,223.01 L95.67,223.00 L95.74,223.00 L95.87,223.00 L96.07,223.00 L96.27,223.00 L96.47,223.00 L96.62,222.99 L96.67,222.99 L96.87,222.99 L97.07,222.99 L97.27,222.99 L97.47,222.99 L97.49,222.99 L97.68,222.98 L97.88,222.98 L98.08,222.98 L98.28,222.98 L98.37,222.98 L98.48,222.98 L98.68,222.97 L98.88,222.97 L99.08,222.97 L99.24,222.97 L99.28,222.97 L99.48,222.97 L99.68,222.96 L99.88,222.96 L100.08,222.96 L100.12,222.96 L100.28,222.96 L100.48,222.96 L100.68,222.95 L100.88,222.95 L100.99,222.95 L101.08,222.95 L101.28,222.95 L101.48,222.95 L101.69,222.95 L101.87,222.94 L101.89,222.94 L102.09,222.94 L102.29,222.94 L102.49,222.94 L102.69,222.94 L102.74,222.94 L102.89,222.94 L103.09,222.93 L103.29,222.93 L103.49,222.93 L103.62,222.93 L103.69,222.93 L103.89,222.93 L104.09,222.93 L104.29,222.93 L104.49,222.92 L104.49,222.92 L104.69,222.92 L104.89,222.92 L105.09,222.92 L105.29,222.92 L105.37,222.92 L105.49,222.92 L105.70,222.92 L105.90,222.91 L106.10,222.91 L106.24,222.91 L106.30,222.91 L106.50,222.91 L106.70,222.91 L106.90,222.91 L107.10,222.91 L107.12,222.91 L107.30,222.90 L107.50,222.90 L107.99,222.90 L108.87,222.89 L109.74,222.89 L110.62,222.88 L111.49,222.88 L112.37,222.87 L113.24,222.87 L114.12,222.86 L114.99,222.86 L115.87,222.85 L116.74,222.85 L117.62,222.85 L118.49,222.84 L119.37,222.84 L120.24,222.83 L121.12,222.83 L121.99,222.82 L122.87,222.82 L123.74,222.82 L124.62,222.81 L125.49,222.81 L126.37,222.80 L127.24,222.80 L128.12,222.80 L128.99,222.79 L129.87,222.79 L130.74,222.79 L131.62,222.78 L132.49,222.78 L133.37,222.77 L134.24,222.77 L135.12,222.77 L135.99,222.76 L136.87,222.76 L137.74,222.76 L138.62,222.75 L139.49,222.75 L140.37,222.75 L141.24,222.74 L142.12,222.74 L142.99,222.74 L143.87,222.73 L144.74,222.73 L145.62,222.73 L146.49,222.72 L147.37,222.72 L148.24,222.72 L149.12,222.71 L149.99,222.71 L150.87,222.71 L151.74,222.70 L152.61,222.70 L153.49,222.70 L154.36,222.69 L155.24,222.69 L156.11,222.69 L156.99,222.69 L157.86,222.68 L158.74,222.68 L159.61,222.68 L160.49,222.67 L161.36,222.67 L162.24,222.67 L163.11,222.66 L163.99,222.66 L164.86,222.66 L165.74,222.66 L166.61,222.65 L167.49,222.65 L168.36,222.65 L169.24,222.64 L170.11,222.64 L170.99,222.64 L171.86,222.64 L172.74,222.63 L173.61,222.63 L174.49,222.63 L175.36,222.62 L176.24,222.62 L177.11,222.62 L177.99,222.62 L178.86,222.61 L179.74,222.61 L180.61,222.61 L181.49,222.61 L182.36,222.60 L183.24,222.60 L184.11,222.60 L184.99,222.59 L185.86,222.59 L186.74,222.59 L187.61,222.59 L188.49,222.58 L189.36,222.58 L190.24,222.58 L191.11,222.58 L191.99,222.57 L192.86,222.57 L193.74,222.57 L194.61,222.57 L195.49,222.56 L196.36,222.56 L197.24,222.56 L198.11,222.56 L198.99,222.55 L199.86,222.55 L200.74,222.55 L201.61,222.55 L202.49,222.54 L203.36,222.54 L204.24,222.54 L205.11,222.54 L205.99,222.53 L206.86,222.53 L207.74,222.53 L208.61,222.53 L209.49,222.53 L210.36,222.52 L211.24,222.52 L212.11,222.52 L212.99,222.52 L213.86,222.51 L214.73,222.51 L215.61,222.51 L216.48,222.51 L217.36,222.50 L218.23,222.50 L219.11,222.50 L219.98,222.50 L220.86,222.50 L221.73,222.49 L222.61,222.49 L223.48,222.49 L224.36,222.49 L225.23,222.48 L226.11,222.48 L226.98,222.48 L227.86,222.48 L228.73,222.48 L229.61,222.47 L230.48,222.47 L231.36,222.47 L232.23,222.47 L233.11,222.47 L233.98,222.46 L234.86,222.46 L235.73,222.46 L236.61,222.46 L237.48,222.46 L238.36,222.45 L239.23,222.45 L240.11,222.45 L240.98,222.45 L241.86,222.45 L242.73,222.44 L243.61,222.44 L244.48,222.44 L245.36,222.44 L246.23,222.44 L247.11,222.43 L247.98,222.43 L248.86,222.43 L249.73,222.43 L250.61,222.43 L251.48,222.42 L252.36,222.42 L253.23,222.42 L254.11,222.42 L254.98,222.42 L255.86,222.41 L256.73,222.41 L257.61,222.41 L258.48,222.41 L259.36,222.41 L260.23,222.41 L261.11,222.40 L261.98,222.40 L262.86,222.40 L263.73,222.40 L264.61,222.40 L265.48,222.39 L266.36,222.39 L267.23,222.39 L268.11,222.39 L268.98,222.39 L269.86,222.39 L270.73,222.38 L271.61,222.38 L272.48,222.38 L273.36,222.38 L274.23,222.38 L275.11,222.38 L275.98,222.37 L276.86,222.37 L277.73,222.37 L278.60,222.37 L279.48,222.37 L280.35,222.37 L281.23,222.36 L282.10,222.36 L282.98,222.36 L283.85,222.36 L284.73,222.36 L285.60,222.36 L286.48,222.35 L287.35,222.35 L288.23,222.35 L289.10,222.35 L289.98,222.35 L290.85,222.35 L291.73,222.34 L292.60,222.34 L293.48,222.34 L294.35,222.34 L295.23,222.34 L296.10,222.34 L296.98,222.34 L297.85,222.33 L298.73,222.33 L299.60,222.33 L300.48,222.33 L301.35,222.33 L302.23,222.33 L303.10,222.32 L303.98,222.32 L304.85,222.32 L305.73,222.32 L306.60,222.32 L307.48,222.32 L308.35,222.32 L309.23,222.31 L310.10,222.31 L310.98,222.31 L311.85,222.31 L312.73,222.31 L313.60,222.31 L314.48,222.31 L315.35,222.30 L316.23,222.30 L317.10,222.30 L317.98,222.30 L318.85,222.30 L319.73,222.30 L320.60,222.30 L321.48,222.29 L322.35,222.29 L323.23,222.29 L324.10,222.29 L324.98,222.29 L325.85,222.29 L326.73,222.29 L327.60,222.29 L328.48,222.28 L329.35,222.28 L330.23,222.28 L331.10,222.28 L331.98,222.28 L332.85,222.28 L333.73,222.28 L334.60,222.28 L335.48,222.27 L336.35,222.27 L337.23,222.27 L338.10,222.27 L338.98,222.27 L339.85,222.27 L340.72,222.27 L341.60,222.27 L342.47,222.26 L343.35,222.26 L344.22,222.26 L345.10,222.26 L345.97,222.26 L346.85,222.26 L347.72,222.26 L348.60,222.26 L349.47,222.25 L350.35,222.25 L351.22,222.25 L352.10,222.25 L352.97,222.25 L353.85,222.25 L354.72,222.25 L355.60,222.25 L356.47,222.25 L357.35,222.24 L358.22,222.24 L359.10,222.24 L359.97,222.24 L360.85,222.24 L361.72,222.24 L362.60,222.24 L363.47,222.24 L364.35,222.24 L365.22,222.23 L366.10,222.23 L366.97,222.23 L367.85,222.23 L368.72,222.23 L369.60,222.23 L370.47,222.23 L371.35,222.23 L372.22,222.23 L373.10,222.22 L373.97,222.22 L374.85,222.22 L375.72,222.22 L376.60,222.22 L377.47,222.22 L378.35,222.22 L379.22,222.22 L380.10,222.22 L380.97,222.22 L381.85,222.21 L382.72,222.21 L383.60,222.21 L384.47,222.21 L385.35,222.21 L386.22,222.21 L387.10,222.21 L387.97,222.21 L388.85,222.21 L389.72,222.21 L390.60,222.20 L391.47,222.20 L392.35,222.20 L393.22,222.20 L394.10,222.20 L394.97,222.20 L395.85,222.20 L396.72,222.20 L397.60,222.20 L398.47,222.20 L399.35,222.20 L400.22,222.19 L401.10,222.19 L401.97,222.19 L402.84,222.19 L403.72,222.19 L404.59,222.19 L405.47,222.19 L406.34,222.19 L407.22,222.19 L408.09,222.19 L408.97,222.19 L409.84,222.18 L410.72,222.18 L411.59,222.18 L412.47,222.18 L413.34,222.18 L414.22,222.18 L415.09,222.18 L415.97,222.18 L416.84,222.18 L417.72,222.18 L418.59,222.18 L419.47,222.17 L420.34,222.17 L421.22,222.17 L422.09,222.17 L422.97,222.17 L423.84,222.17 L424.72,222.17 L425.59,222.17 L426.47,222.17 L427.34,222.17 L428.22,222.17 L429.09,222.17 L429.97,222.17 L430.84,222.16 L431.72,222.16 L432.59,222.16 L433.47,222.16 L434.34,222.16 L435.22,222.16 L436.09,222.16 L436.97,222.16 L437.84,222.16 L438.72,222.16 L439.59,222.16 L440.47,222.16 L441.34,222.15 L442.22,222.15 L443.09,222.15 L443.97,222.15 L444.84,222.15 L445.72,222.15 L446.59,222.15 L447.47,222.15 L448.34,222.15 L449.22,222.15 L450.09,222.15 L450.97,222.15 L451.84,222.15 L452.72,222.15 L453.59,222.14 L454.47,222.14 L455.34,222.14 L456.22,222.14 L457.09,222.14 L457.97,222.14 L458.84,222.14 L459.72,222.14 L460.59,222.14 L461.47,222.14 L462.34,222.14 L463.22,222.14 L464.09,222.14" stroke="#00f" stroke-linecap="square" stroke-linejoin="round"/>
</g>
<g font-family="Liberation Sans, sans-serif" font-size="16.9px" fill="#000" stroke="#000" stroke-width="0.25">
<text x="94.97" y="325.40">5</text>
<path d="M763 0H583V1147Q518 1085 412.5 1023T223 930V1104Q374 1175 487 1276T647 1472H763V0Z" transform="translate(163.63,325.40) scale(0.00825,-0.00825)" fill="#000"/>
<text x="173.03" y="325.40">0</text>
<path d="M763 0H583V1147Q518 1085 412.5 1023T223 930V1104Q374 1175 487 1276T647 1472H763V0Z" transform="translate(236.40,325.40) scale(0.00825,-0.00825)" fill="#000"/>
<text x="245.80" y="325.40">5</text>
<text x="309.16" y="325.40">2</text>
<text x="318.56" y="325.40">0</text>
<text x="381.93" y="325.40">2</text>
<text x="391.33" y="325.40">5</text>
<text x="454.69" y="325.40">3</text>
<text x="464.09" y="325.40">0</text>
<path d="M763 0H583V1147Q518 1085 412.5 1023T223 930V1104Q374 1175 487 1276T647 1472H763V0Z" transform="translate(13.30,243.15) scale(0.00825,-0.00825)" fill="#000"/>
<text x="13.30" y="174.25">2</text>
<text x="13.30" y="105.35">3</text>
<text x="483.9" y="312.1" font-size="19.2px">t</text>
<text x="414.4" y="131.7" font-size="21.8px">(b)</text>
</g>
<text x="0.5" y="23.3" font-family="Liberation Sans, sans-serif" font-size="24px" fill="#000" stroke="#000" stroke-width="0.25">MSD</text></svg>
</body></html>
